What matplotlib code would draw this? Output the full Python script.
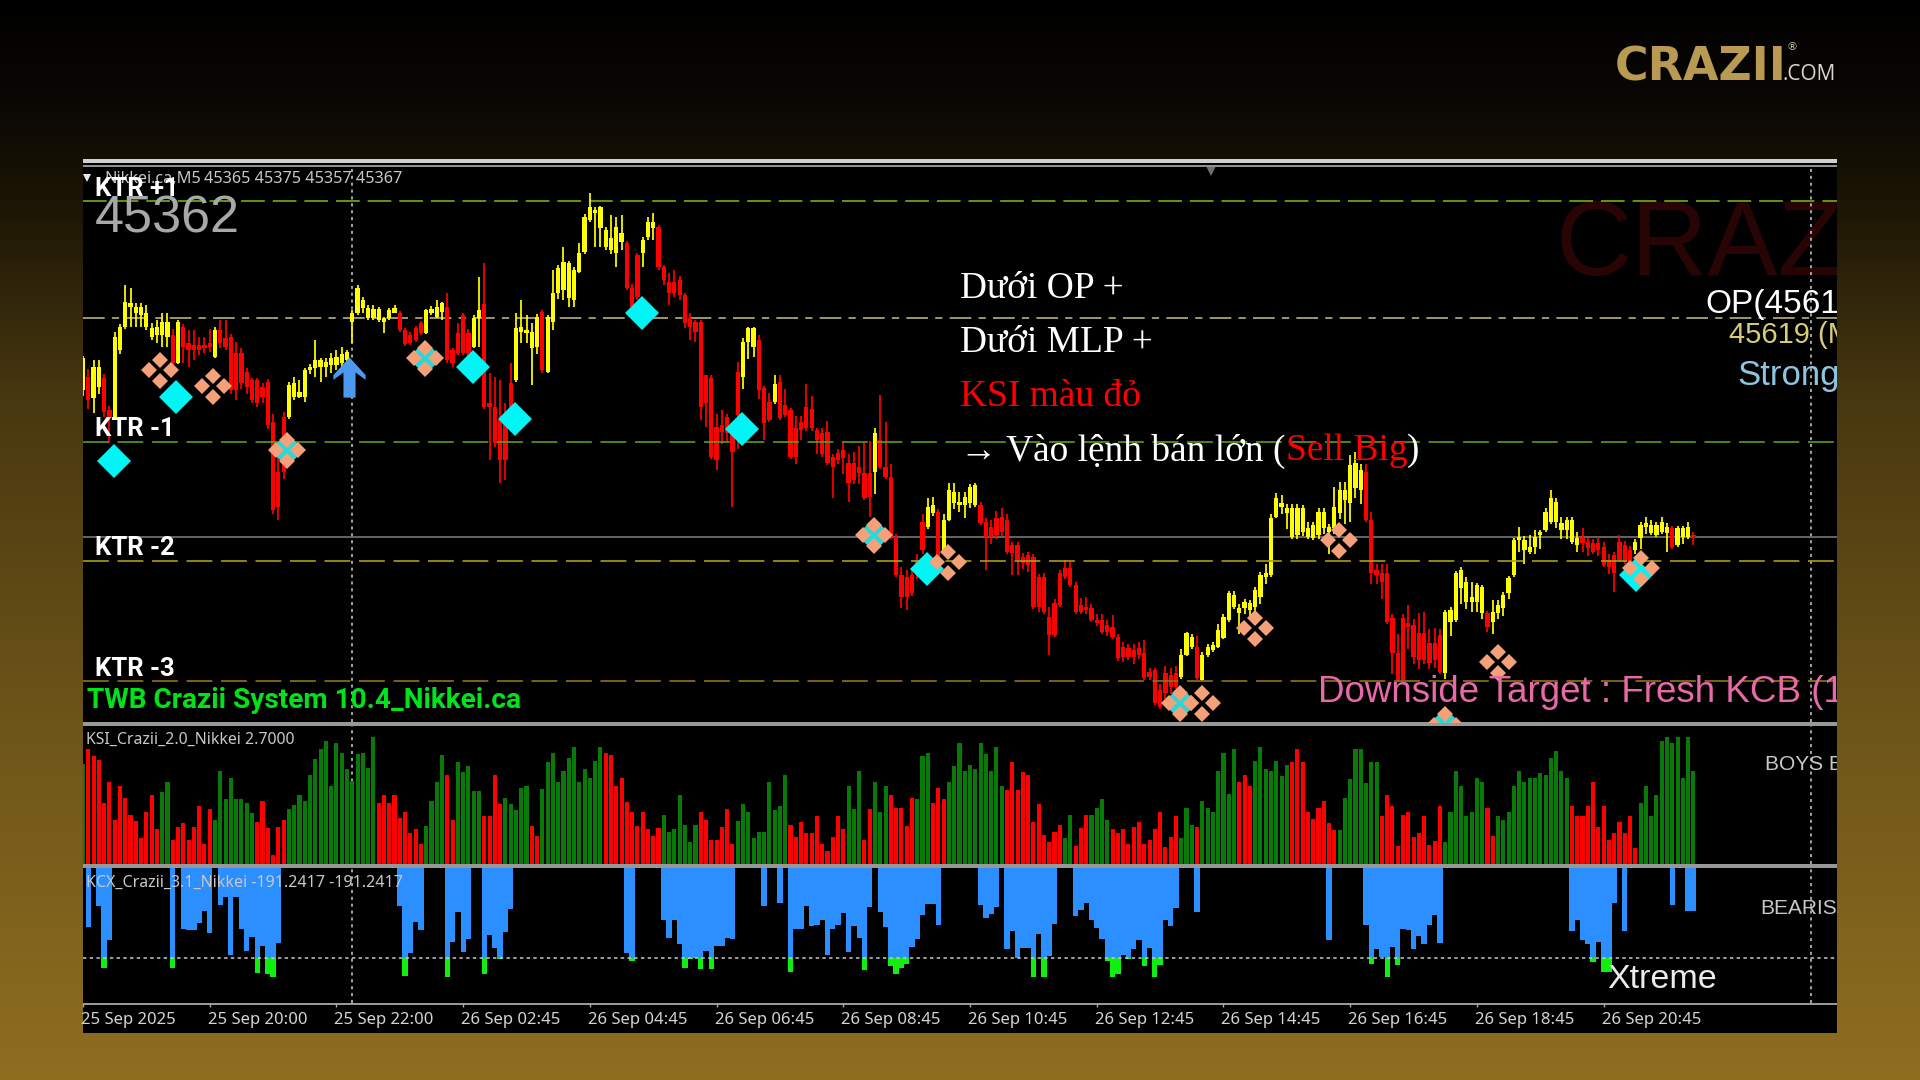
"""Crazii Nikkei M5 chart slide: candles, KSI histogram and KCX histogram."""
import numpy as np
import matplotlib
matplotlib.use("Agg")
import matplotlib.pyplot as plt
from matplotlib.patches import Rectangle
from matplotlib.path import Path
from matplotlib.transforms import ScaledTranslation

W, H = 1920, 1080

# prices are stored as points above BASE_PRICE
BASE_PRICE = 45200
OPEN = [
    314, 327, 306, 317, 326, 294, 287, 354, 377, 397, 391, 389, 377, 367, 369, 369, 367, 369, 341, 377,
    361, 359, 359, 359, 361, 347, 374, 366, 367, 351, 351, 332, 324, 324, 317, 322, 282, 232, 287, 287,
    307, 307, 307, 334, 336, 337, 337, 339, 339, 341, 344, 382, 391, 396, 386, 386, 384, 382, 386, 391,
    391, 374, 369, 376, 381, 371, 391, 387, 392, 397, 354, 371, 389, 371, 357, 386, 400, 301, 297, 284,
    284, 321, 324, 372, 371, 356, 357, 392, 332, 382, 411, 414, 406, 404, 432, 452, 484, 491, 476, 457,
    454, 451, 462, 461, 416, 449, 451, 467, 476, 477, 437, 422, 422, 424, 409, 386, 382, 382, 329, 326,
    277, 279, 287, 271, 332, 327, 362, 357, 364, 316, 302, 302, 322, 299, 294, 276, 282, 297, 295, 274,
    271, 272, 247, 251, 254, 241, 241, 237, 231, 231, 232, 264, 237, 227, 167, 129, 127, 129, 144, 182,
    177, 191, 192, 154, 184, 201, 199, 199, 201, 199, 199, 182, 177, 186, 187, 184, 159, 159, 147, 149,
    147, 127, 127, 87, 101, 131, 136, 136, 119, 99, 97, 96, 84, 84, 79, 77, 67, 57, 56, 54,
    56, 51, 32, 34, 14, 31, 29, 31, 27, 49, 57, 57, 24, 49, 54, 57, 66, 84, 97, 91,
    96, 94, 97, 107, 127, 129, 187, 197, 191, 167, 169, 172, 167, 166, 169, 176, 172, 176, 191, 204,
    201, 216, 214, 232, 184, 134, 131, 131, 86, 51, 86, 81, 79, 71, 71, 61, 61, 69, 31, 82,
    84, 116, 102, 102, 102, 91, 91, 82, 91, 96, 111, 129, 164, 154, 152, 157, 169, 174, 182, 182,
    174, 174, 162, 159, 166, 162, 161, 161, 157, 144, 149, 162, 159, 154, 154, 166, 177, 171, 169, 172,
    171, 176, 159, 167, 167, 169,
]
CLOSE = [
    346, 304, 337, 337, 292, 287, 367, 377, 402, 401, 397, 397, 391, 376, 377, 382, 382, 341, 382, 357,
    354, 354, 354, 356, 357, 374, 361, 357, 314, 314, 321, 317, 304, 301, 307, 279, 194, 197, 232, 319,
    321, 312, 334, 337, 344, 344, 342, 346, 347, 350, 352, 391, 416, 404, 396, 395, 395, 386, 394, 396,
    374, 360, 361, 364, 371, 394, 395, 397, 401, 344, 341, 351, 351, 351, 386, 394, 297, 297, 261, 244,
    244, 277, 376, 377, 374, 372, 387, 334, 387, 411, 436, 442, 441, 434, 451, 487, 497, 494, 497, 474,
    466, 477, 471, 416, 397, 407, 464, 482, 482, 437, 424, 411, 411, 409, 381, 377, 372, 297, 301, 247,
    244, 272, 271, 252, 289, 362, 376, 376, 314, 281, 284, 320, 286, 289, 247, 247, 274, 276, 276, 264,
    250, 241, 237, 244, 246, 221, 224, 231, 206, 207, 271, 237, 227, 167, 129, 107, 107, 111, 129, 154,
    197, 199, 146, 184, 214, 212, 202, 207, 217, 219, 181, 167, 167, 169, 172, 152, 151, 144, 141, 139,
    97, 97, 92, 69, 69, 99, 127, 119, 92, 92, 94, 84, 81, 72, 72, 67, 46, 47, 47, 47,
    49, 26, 27, 1, -3, 11, 17, 17, 49, 71, 67, 26, 49, 57, 59, 74, 87, 111, 109, 96,
    102, 101, 114, 129, 131, 186, 206, 201, 196, 196, 196, 196, 176, 179, 192, 192, 177, 197, 214, 214,
    239, 241, 234, 184, 131, 129, 122, 82, 51, 24, 24, 77, 47, 44, 44, 41, 44, 32, 92, 94,
    131, 134, 122, 107, 119, 117, 77, 92, 99, 109, 126, 164, 167, 164, 157, 167, 172, 192, 206, 202,
    181, 184, 184, 166, 161, 156, 152, 154, 139, 137, 131, 144, 142, 141, 162, 179, 181, 179, 179, 182,
    177, 157, 176, 176, 177, 166,
]
HIGH = [
    348, 335, 344, 344, 330, 298, 372, 380, 419, 416, 401, 401, 399, 381, 384, 391, 391, 375, 384, 380,
    374, 374, 367, 367, 375, 377, 384, 384, 370, 362, 356, 336, 326, 326, 321, 325, 290, 250, 292, 322,
    327, 324, 336, 340, 364, 346, 346, 351, 354, 357, 354, 394, 419, 407, 399, 399, 397, 387, 396, 399,
    393, 376, 372, 378, 383, 395, 398, 404, 402, 411, 356, 381, 391, 375, 389, 427, 441, 331, 327, 324,
    301, 341, 391, 404, 389, 381, 390, 394, 389, 434, 439, 457, 443, 437, 461, 490, 511, 497, 498, 477,
    489, 487, 489, 463, 420, 451, 467, 487, 491, 479, 439, 431, 434, 428, 411, 391, 384, 384, 329, 329,
    290, 294, 290, 280, 342, 366, 377, 377, 369, 318, 311, 329, 329, 315, 296, 288, 288, 320, 308, 276,
    276, 283, 250, 255, 262, 250, 252, 258, 262, 263, 276, 309, 282, 240, 170, 137, 134, 135, 150, 190,
    206, 207, 195, 190, 221, 221, 212, 212, 220, 221, 202, 186, 184, 193, 196, 190, 162, 162, 151, 152,
    150, 130, 131, 97, 105, 134, 144, 142, 122, 106, 107, 100, 90, 90, 84, 89, 70, 62, 60, 60,
    62, 64, 36, 36, 20, 38, 36, 38, 55, 72, 70, 68, 52, 60, 62, 80, 90, 113, 113, 100,
    105, 104, 117, 132, 140, 190, 211, 209, 200, 200, 200, 199, 182, 182, 196, 196, 180, 217, 222, 222,
    249, 252, 240, 240, 192, 140, 140, 140, 90, 70, 90, 99, 85, 91, 92, 75, 76, 75, 94, 97,
    133, 137, 127, 122, 121, 119, 93, 104, 104, 112, 128, 166, 177, 168, 169, 174, 174, 196, 214, 206,
    187, 187, 187, 172, 176, 166, 165, 167, 162, 150, 152, 169, 163, 158, 165, 182, 187, 184, 182, 187,
    181, 178, 178, 178, 182, 172,
]
LOW = [
    308, 295, 291, 310, 287, 261, 285, 350, 375, 377, 377, 377, 374, 364, 361, 357, 357, 338, 340, 341,
    337, 344, 349, 351, 352, 346, 356, 354, 310, 304, 315, 310, 301, 297, 301, 275, 190, 184, 225, 285,
    304, 306, 302, 330, 327, 322, 327, 331, 334, 337, 337, 361, 389, 391, 384, 384, 382, 371, 384, 391,
    372, 358, 359, 362, 369, 370, 389, 386, 384, 341, 337, 349, 349, 347, 356, 357, 295, 244, 257, 221,
    224, 274, 322, 361, 361, 319, 350, 331, 331, 374, 405, 404, 397, 397, 431, 450, 482, 457, 457, 454,
    450, 437, 454, 414, 392, 404, 437, 464, 464, 434, 419, 399, 407, 404, 376, 364, 362, 284, 277, 245,
    234, 260, 262, 197, 255, 315, 345, 347, 305, 264, 282, 300, 284, 287, 245, 240, 264, 273, 273, 250,
    247, 239, 206, 240, 230, 202, 220, 220, 204, 187, 210, 235, 225, 165, 127, 96, 94, 108, 125, 150,
    175, 188, 143, 150, 183, 195, 192, 186, 196, 197, 179, 134, 160, 165, 168, 150, 129, 129, 135, 132,
    95, 92, 90, 49, 67, 97, 125, 117, 90, 90, 90, 82, 78, 70, 68, 65, 43, 42, 44, 40,
    45, 24, 24, -1, -5, 5, 10, 15, 25, 48, 55, 24, 23, 47, 52, 56, 65, 82, 95, 70,
    90, 87, 90, 100, 120, 127, 186, 190, 175, 165, 165, 168, 165, 164, 165, 170, 150, 170, 185, 180,
    182, 206, 200, 182, 120, 120, 105, 80, 30, 22, 22, 55, 40, 35, 40, 35, 36, 30, 25, 68,
    82, 100, 95, 92, 92, 85, 72, 70, 85, 88, 105, 127, 152, 140, 150, 150, 155, 172, 180, 176,
    165, 165, 160, 152, 152, 148, 150, 148, 137, 130, 112, 142, 140, 138, 150, 155, 170, 169, 167, 170,
    152, 155, 157, 160, 165, 159,
]

KSI = [
    3.0, 3.45, 3.25, 3.12, 1.82, 2.47, 1.32, 2.35, 1.98, 1.47, 1.28, 0.77, 1.55, 2.08, 1.05, 2.15, 2.47, 0.72, 1.1, 1.24,
    0.72, 1.12, 1.75, 0.6, 1.65, 1.32, 2.78, 1.95, 2.58, 1.95, 1.95, 1.83, 1.53, 1.27, 1.89, 1.08, 0.28, 1.12, 1.32, 1.65,
    1.78, 2.08, 1.9, 2.67, 3.15, 3.45, 3.7, 2.35, 3.62, 3.33, 2.85, 2.5, 3.3, 3.32, 2.87, 3.82, 1.83, 2.08, 1.83, 2.08,
    1.38, 1.55, 0.92, 1.05, 0.6, 1.15, 1.9, 2.47, 3.27, 2.67, 1.32, 3.07, 2.75, 2.95, 2.18, 2.18, 1.43, 1.43, 2.67, 1.8,
    1.98, 1.8, 1.63, 2.27, 2.35, 1.15, 0.83, 2.25, 3.05, 3.33, 2.47, 2.78, 3.18, 3.5, 2.47, 2.85, 2.58, 3.1, 3.5, 3.33,
    3.27, 2.35, 2.58, 1.87, 1.55, 1.15, 1.55, 1.05, 0.83, 1.08, 1.47, 0.95, 1.05, 2.07, 1.17, 0.65, 1.17, 1.55, 1.32, 0.73,
    0.73, 1.12, 1.65, 0.6, 1.28, 1.8, 1.55, 0.78, 0.95, 0.97, 2.47, 1.63, 1.75, 2.67, 1.17, 0.8, 1.25, 0.93, 0.93, 1.43,
    0.6, 0.4, 0.8, 1.43, 1.05, 2.35, 1.65, 2.78, 0.72, 1.65, 2.47, 1.55, 2.35, 2.08, 1.68, 1.68, 1.15, 1.98, 1.95, 3.25,
    3.33, 1.83, 2.27, 1.95, 2.47, 2.95, 3.62, 2.78, 2.98, 2.85, 3.62, 3.3, 2.78, 3.5, 2.35, 2.23, 3.07, 2.23, 2.75, 2.67,
    1.27, 1.8, 0.88, 0.65, 0.95, 1.17, 0.77, 1.47, 0.55, 1.08, 1.47, 1.47, 1.68, 1.95, 1.32, 1.05, 0.93, 1.05, 0.6, 1.12,
    1.25, 0.6, 0.72, 1.05, 1.55, 0.5, 0.8, 1.43, 0.78, 1.68, 1.17, 1.1, 1.88, 1.68, 1.55, 2.78, 3.33, 2.1, 3.45, 2.47,
    2.67, 2.35, 3.1, 3.5, 2.85, 2.78, 3.1, 2.65, 2.98, 3.07, 3.45, 3.07, 1.55, 1.35, 1.68, 1.88, 1.23, 1.03, 1.03, 1.98,
    2.54, 3.45, 3.45, 2.42, 3.07, 3.07, 1.43, 2.08, 1.75, 0.55, 1.47, 1.55, 0.8, 0.92, 1.43, 0.58, 0.68, 1.75, 0.65, 1.55,
    2.78, 2.35, 1.43, 1.55, 2.58, 2.47, 1.67, 0.83, 1.43, 1.32, 1.55, 2.35, 2.78, 2.47, 2.58, 2.58, 2.74, 2.67, 3.18, 3.38,
    2.78, 2.58, 1.75, 1.43, 1.43, 1.75, 2.47, 1.12, 1.75, 0.72, 0.92, 1.25, 0.92, 1.43, 0.48, 1.83, 2.35, 1.43, 2.08, 3.7,
    3.82, 3.62, 3.82, 2.58, 3.82, 2.78,
]
# colour of the KSI histogram as (is_green, number of bars)
KSI_RUNS = [
    (1, 1), (0, 14), (1, 2), (0, 8), (1, 8), (0, 6), (1, 17), (0, 9), (1, 4), (0, 2), (1, 5), (0, 4), (1, 5), (0, 2),
    (1, 12), (0, 11), (1, 7), (0, 7), (1, 10), (0, 11), (1, 3), (0, 2), (1, 3), (0, 5), (1, 3), (0, 3), (1, 11),
    (0, 11), (1, 2), (0, 3), (1, 4), (0, 13), (1, 3), (0, 1), (1, 7), (0, 3), (1, 7), (0, 9), (1, 8), (0, 12), (1, 8),
    (0, 2), (1, 14), (0, 13), (1, 11),
]

KCX = (
    [0, -268, 0, -175, -453, -328] + [0] * 11 + [-453, 0, -278, -280, -280, -250, -194, -298, 0, -168, -130, -398, -130,
    -278, -378, -314, -478, -356, -483, -498, -340] + [0] * 22
    + [-175, -490, -388, -246, -284, 0, 0, 0, 0, -494, -338, -201, -381, -322, 0, 0, -483, -303, -366, -416, -292, -188]
    + [0] * 21 + [-386, -423, 0, 0, 0, 0, 0, -236, -318, -236, -348, -453, -416, -408, -460, -378, -460, -356, -356,
    -318, -322, 0, 0, 0, 0, 0, -172, 0, 0, -158, 0, -472, -278, -278, -175, -266, -258, -236, -394, -278, -258, -206,
    -382, -266, -318, -464, -176, 0, -202, -268, -446, -483, -453, -438, -360, -321, -213, -164, -164, -258]
    + [0] * 7 + [-168, -228, -208, -176, 0, -370, -288, -408, -363, -363, -494, -300, -494, -400, -254, 0, 0, 0, -218,
    -190, -158, -236, -273, -321, -423, -494, -483, -398, -416, -370, -328, -448, -363, -494, -442, -236, -266, -183,
    0, 0, 0, -198] + [0] * 24 + [-328] + [0] * 6
    + [-258, -435, -370, -404, -494, -358, -442, -276, -284, -370, -310, -348, -258, -213, -340] + [0] * 24
    + [-288, -236, -328, -348, -428, -336, -471, -471, -158, 0, -288] + [0] * 8 + [-168, 0, 0, -194, -194]
)
KCX_LEVEL = -410

# price levels, same units as OPEN
KTR_P1 = 503
OP_LEVEL = 386
KTR_M1 = 262
BID = 167
KTR_M2 = 143
KTR_M3 = 23

# signal markers as bar index / price points
CYAN_BARS = [5.8, 17.7, 73.8, 81.8, 105.8, 124.9, 159.8, 294.1]
CYAN_VALS = [243, 307, 337, 285, 391, 275, 135, 129]
COMBO_BARS = [38.7, 64.8, 149.8, 207.8, 258]
COMBO_VALS = [254, 346, 169, 1, -20]
DOT_BARS = [14.6, 24.6, 163.9, 211.9, 221.9, 237.9, 268, 295]
DOT_VALS = [334, 318, 142, 1, 76, 164, 42, 136]
ARROW_BAR = 50.4
ARROW_VAL = 327
CROSS_BARS = [51, 327.3]

TICK_BARS = list(range(0, 300, 24))
TICK_LABELS = [
    "25 Sep 2025", "25 Sep 20:00", "25 Sep 22:00", "26 Sep 02:45", "26 Sep 04:45", "26 Sep 06:45", "26 Sep 08:45",
    "26 Sep 10:45", "26 Sep 12:45", "26 Sep 14:45", "26 Sep 16:45", "26 Sep 18:45", "26 Sep 20:45",
]

BG_Y = [0, 100, 200, 400, 700, 1080]
BG_R = [0, 10, 28, 72, 107, 143]
BG_G = [0, 8, 21, 56, 83, 110]
BG_B = [0, 4, 5, 16, 24, 32]

LEFT, RIGHT = 83, 1837
BAR_PX = 5.28


def panel(fig, top, bottom):
    ax = fig.add_axes([LEFT / W, 1 - bottom / H, (RIGHT - LEFT) / W, (bottom - top) / H], facecolor="black")
    ax.set_xlim(0, (RIGHT - LEFT) / BAR_PX)
    ax.set_xticks([])
    ax.set_yticks([])
    for spine in ax.spines.values():
        spine.set_visible(False)
    for bar in CROSS_BARS:
        ax.axvline(bar, color="#d0d0d0", lw=1.1, ls=(0, (2, 2.5)), zorder=1)
    return ax


def label(fig, ax, x, y, s, **kw):
    kw.setdefault("va", "center")
    kw.setdefault("ha", "left")
    kw.setdefault("zorder", 9)
    return ax.text(x / W, 1 - y / H, s, transform=fig.transFigure, clip_on=True, **kw)


def rich_line(fig, ax, x, y, parts, **kw):
    renderer = fig.canvas.get_renderer()
    for s, color in parts:
        t = label(fig, ax, x, y, s, color=color, **kw)
        x = t.get_window_extent(renderer).x1


def draw_background(fig):
    bg = fig.add_axes([0, 0, 1, 1])
    bg.set_axis_off()
    ys = np.arange(H)
    rgb = np.stack([np.interp(ys, BG_Y, c) for c in (BG_R, BG_G, BG_B)], axis=1) / 255
    bg.imshow(rgb[:, None, :], aspect="auto", extent=(0, W, H, 0))
    bg.set_xlim(0, W)
    bg.set_ylim(H, 0)
    bg.add_patch(Rectangle((LEFT, 160), RIGHT - LEFT, 873, color="black", lw=0))
    bg.add_patch(Rectangle((LEFT, 159), RIGHT - LEFT, 3.5, color="#d0d0d0", lw=0))
    bg.add_patch(Rectangle((LEFT, 164.5), RIGHT - LEFT, 2, color="#909090", lw=0))
    bg.add_patch(Rectangle((LEFT, 721.5), RIGHT - LEFT, 4.5, color="#989898", lw=0))
    bg.add_patch(Rectangle((LEFT, 864), RIGHT - LEFT, 4, color="#989898", lw=0))
    bg.add_patch(Rectangle((LEFT, 1002.5), RIGHT - LEFT, 2, color="#989898", lw=0))

    bg.text(1615, 68, "CRAZII", color="#b89a52", fontsize=33, fontweight="bold", family="DejaVu Sans",
            va="center", ha="left")
    bg.text(1783, 75, ".COM", color="#dedacb", fontsize=15, family="Open Sans", va="center", ha="left")
    bg.text(1786, 47, "®", color="#cfc6a8", fontsize=8, family="DejaVu Sans", va="center", ha="left")


def draw_price(fig, ax):
    ax.set_ylim(-17, 537)
    bars = np.arange(len(OPEN))
    opens, closes = np.array(OPEN), np.array(CLOSE)
    colors = np.where(closes >= opens, "#ffff00", "#ff0000")

    label(fig, ax, 1556, 247, "CRAZII", color="#280404", fontsize=76, family="Liberation Sans", zorder=0)

    dash = (0, (15.5, 5.2))
    ax.axhline(KTR_P1, color="#7fbf14", lw=1.1, ls=dash, zorder=1)
    ax.axhline(OP_LEVEL, color="#aaa27c", lw=1.3, ls=(0, (12, 4, 4, 4)), zorder=1)
    ax.axhline(KTR_M1, color="#5f9a1e", lw=1.2, ls=dash, zorder=3)
    ax.axhline(BID, color="#808080", lw=1.1, zorder=1)
    ax.axhline(KTR_M2, color="#a8a014", lw=1.2, ls=dash, zorder=3)
    ax.axhline(KTR_M3, color="#8f7418", lw=1.2, ls=dash, zorder=3)

    ax.vlines(bars, LOW, HIGH, colors=colors, lw=1.25, zorder=2)
    ax.bar(bars, closes - opens, bottom=opens, width=0.8, color=colors, lw=0, zorder=2)

    ax.plot(CYAN_BARS, CYAN_VALS, ls="", marker="D", ms=17, color="#00f5f5", mew=0, zorder=5)
    ax.plot(COMBO_BARS, COMBO_VALS, ls="", marker="D", ms=17, color="#29d8d8", mew=0, zorder=5)
    for bars_, vals_ in ((DOT_BARS, DOT_VALS), (COMBO_BARS, COMBO_VALS)):
        for dx, dy in ((-2.08, 0), (2.08, 0), (0, 10.5), (0, -10.5)):
            ax.plot(np.array(bars_) + dx, np.array(vals_) + dy, ls="", marker="D", ms=8,
                    color="#f4a078", mew=0, zorder=6)

    arrow = Path([(0, 1), (0.8, 0.12), (0.8, -0.12), (0.3, 0.25), (0.3, -1), (-0.3, -1), (-0.3, 0.25),
                  (-0.8, -0.12), (-0.8, 0.12), (0, 1)], closed=True)
    ax.plot([ARROW_BAR], [ARROW_VAL], ls="", marker=arrow, ms=29, color="#4c9af0", mew=0, zorder=6)

    ax.plot([0.7], [526], ls="", marker="v", ms=6, color="#e8e8e8", mew=0, zorder=8)
    ax.plot([213.6], [534], ls="", marker="v", ms=8, color="#6e6e6e", mew=0, zorder=8)

    head = dict(color="#c8c8c8", fontsize=11.7, family="Noto Sans")
    label(fig, ax, 104, 179, "Nikkei.ca,M5", **head)
    label(fig, ax, 204, 179, "45365 45375 45357 45367", **head)
    label(fig, ax, 95, 219, "45362", color="#a8a8a8", fontsize=37.5, family="Liberation Sans")
    ktr = dict(color="white", fontsize=18.5, fontweight="bold", family="Roboto")
    for y, s in ((189, "KTR +1"), (429, "KTR -1"), (548, "KTR -2"), (669, "KTR -3")):
        label(fig, ax, 95, y, s, **ktr)
    label(fig, ax, 87, 701, "TWB Crazii System 10.4_Nikkei.ca", color="#00e31a", fontsize=20.2,
          fontweight="bold", family="Roboto")
    label(fig, ax, 1705, 305, "OP(45619)", color="white", fontsize=24, family="Liberation Sans")
    label(fig, ax, 1729, 335, "45619 (MLP)", color="#d8cc78", fontsize=21, family="Liberation Sans")
    label(fig, ax, 1737, 375, "Strong", color="#8fc4e0", fontsize=25, family="Liberation Sans")
    label(fig, ax, 1318, 693, "Downside Target : Fresh KCB (1", color="#e868a8", fontsize=26.5,
          family="Liberation Sans")

    note = dict(fontsize=26.9, family="Liberation Serif")
    label(fig, ax, 960, 289, "Dưới OP +", color="white", **note)
    label(fig, ax, 960, 343, "Dưới MLP +", color="white", **note)
    label(fig, ax, 960, 397, "KSI màu đỏ", color="#ff0000", **note)
    rich_line(fig, ax, 960, 451, [("→ Vào lệnh bán lớn (", "white"), ("Sell Big", "#ff0000"), (")", "white")], **note)


def draw_ksi(fig, ax):
    ax.set_ylim(0, 4.14)
    colors = []
    for is_green, n in KSI_RUNS:
        colors += ["#087a08" if is_green else "#ff0000"] * n
    ax.bar(np.arange(len(KSI)), KSI, width=0.78, color=colors, lw=0, zorder=2)
    label(fig, ax, 86, 740, "KSI_Crazii_2.0_Nikkei 2.7000", color="#c8c8c8", fontsize=11.4, family="Noto Sans")
    label(fig, ax, 1765, 765, "BOYS BEAR", color="#c8c8c8", fontsize=15, family="Liberation Sans")


def draw_kcx(fig, ax):
    ax.set_ylim(-612, 0)
    vals = np.array(KCX)
    bars = np.arange(len(KCX))
    ax.bar(bars, np.maximum(vals, KCX_LEVEL), width=1.0, color="#2b8fff", lw=0, zorder=2)
    extra = vals < KCX_LEVEL
    ax.bar(bars[extra], vals[extra] - KCX_LEVEL, bottom=KCX_LEVEL, width=1.0, color="#10f010", lw=0, zorder=2)
    ax.axhline(KCX_LEVEL, color="#c8c8c8", lw=1.1, ls=(0, (2.2, 2.2)), zorder=3)
    label(fig, ax, 86, 883, "KCX_Crazii_3.1_Nikkei -191.2417 -191.2417", color="#c8c8c8", fontsize=11.5,
          family="Noto Sans")
    label(fig, ax, 1760, 908, "BEARISH", color="#c8c8c8", fontsize=15, family="Liberation Sans")
    label(fig, ax, 1607, 979, "Xtreme", color="#ececec", fontsize=24.5, family="Liberation Sans")

    ax.set_xticks(TICK_BARS)
    ax.set_xticklabels(TICK_LABELS, ha="left", color="#d4d4d4", fontsize=12, family="Noto Sans")
    ax.tick_params(axis="x", length=3, width=1, color="#a8a8a8", pad=3.5)
    shift = ScaledTranslation(-2 / 100, 0, fig.dpi_scale_trans)
    for tick_label in ax.get_xticklabels():
        tick_label.set_transform(tick_label.get_transform() + shift)


def main():
    fig = plt.figure(figsize=(W / 100, H / 100), dpi=100)
    draw_background(fig)
    fig.canvas.draw()
    ax_price = panel(fig, 167, 721.5)
    ax_ksi = panel(fig, 726, 864)
    ax_kcx = panel(fig, 868, 1002.5)
    draw_price(fig, ax_price)
    draw_ksi(fig, ax_ksi)
    draw_kcx(fig, ax_kcx)
    fig.savefig("out.png", dpi=100)


if __name__ == "__main__":
    main()
